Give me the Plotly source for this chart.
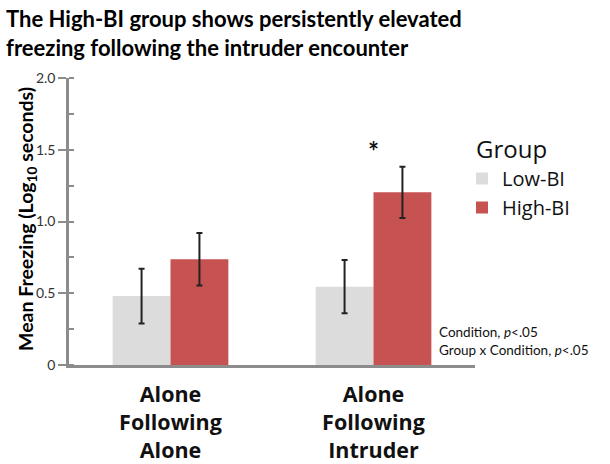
import plotly.graph_objects as go

categories = ["Alone<br>Following<br>Alone", "Alone<br>Following<br>Intruder"]
groups = ["Low-BI", "High-BI"]
low_bi = [0.48, 0.546]
high_bi = [0.737, 1.203]
low_err = [0.19, 0.185]
high_err = [0.183, 0.178]
colors = ["#dcdcdc", "#c65251"]
ytick_vals = [0, 0.5, 1.0, 1.5, 2.0]
ytick_text = ["0", "0.5", "1.0", "1.5", "2.0"]

W, H = 610, 464
ML, MR, MT, MB = 69, 135, 78, 99
PW = W - ML - MR
PH = H - MT - MB

def px_x(px):
    return (px - ML) / PW

def px_y(py):
    return (H - MB - py) / PH

FONT = "Lato"
fig = go.Figure()
for name, vals, errs, col in zip(groups, [low_bi, high_bi], [low_err, high_err], colors):
    fig.add_trace(go.Bar(
        x=categories, y=vals, name=name, marker=dict(color=col, line=dict(width=0)),
        error_y=dict(type="data", array=errs, color="#222222", thickness=2, width=3),
    ))

fig.update_layout(
    width=W, height=H,
    paper_bgcolor="white", plot_bgcolor="white",
    margin=dict(l=ML, r=MR, t=MT, b=MB, autoexpand=False),
    barmode="group", bargap=0.43, bargroupgap=0,
    font=dict(family=FONT, color="#111111"),
    legend=dict(
        font=dict(family="Open Sans", size=20, color="#111111"),
        x=px_x(462), xanchor="left", y=px_y(159), yanchor="top",
        traceorder="normal", itemwidth=30, tracegroupgap=0,
    ),
    showlegend=True,
)
fig.update_xaxes(
    range=[-0.5, 1.5], showline=True, linecolor="#8c8c8c", linewidth=3,
    ticks="", tickfont=dict(family="Open Sans", size=21.5, color="#111111", weight="bold"),
    ticklabelstandoff=8,
    showgrid=False, automargin=False,
)
fig.update_yaxes(
    range=[0, 2.0], tickvals=ytick_vals, ticktext=ytick_text,
    showline=True, linecolor="#8c8c8c", linewidth=2.5,
    ticks="outside", ticklen=8, tickwidth=2, tickcolor="#8c8c8c",
    minor=dict(ticks="inside", ticklen=5, tickwidth=1.5, tickcolor="#8c8c8c", dtick=0.25, tick0=0),
    tickfont=dict(size=14, color="#333333"),
    showgrid=False, zeroline=False, automargin=False,
)
# title
fig.add_annotation(x=px_x(4), y=px_y(3), xref="paper", yref="paper", xanchor="left", yanchor="top",
                   align="left", showarrow=False,
                   text="The High-BI group shows persistently elevated<br>freezing following the intruder encounter",
                   font=dict(family=FONT, size=22, color="#000000", weight="bold"))
# y-axis title
fig.add_annotation(x=px_x(27), y=px_y(219), xref="paper", yref="paper", xanchor="center", yanchor="middle",
                   textangle=-90, showarrow=False,
                   text="Mean Freezing (Log<sub>10</sub> seconds)",
                   font=dict(family=FONT, size=19.5, color="#000000", weight="bold"))
# legend title
fig.add_annotation(x=px_x(474), y=px_y(148), xref="paper", yref="paper", xanchor="left", yanchor="middle",
                   showarrow=False, text="Group",
                   font=dict(family="Open Sans", size=24, color="#111111"))
# significance star
fig.add_annotation(x=1, y=1.49, xref="x", yref="y", text="*", showarrow=False,
                   yanchor="middle", font=dict(family=FONT, size=26, color="#111111", weight="bold"))
# stats notes
fig.add_annotation(x=px_x(438), y=px_y(341), xref="paper", yref="paper",
                   text="Condition, <i>p</i><.05<br>Group x Condition, <i>p</i><.05",
                   showarrow=False, xanchor="left", yanchor="middle", align="left", borderpad=0,
                   font=dict(family=FONT, size=13.5, color="#111111"))

fig.write_html("out.html", config={"displayModeBar": False},
               post_script="document.body.style.margin='0';")
